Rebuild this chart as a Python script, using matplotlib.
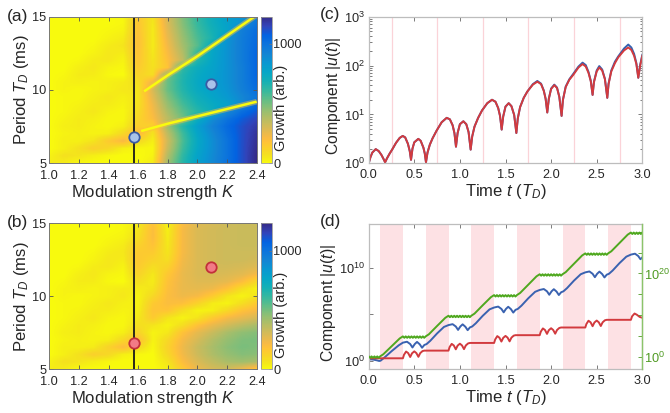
import numpy as np
import matplotlib
matplotlib.use('Agg')
import matplotlib.pyplot as plt
from matplotlib.colors import LinearSegmentedColormap
from matplotlib.ticker import FixedLocator, NullFormatter, LogFormatterSciNotation

plt.rcParams['font.family'] = ['Liberation Sans', 'DejaVu Sans']
plt.rcParams['mathtext.fontset'] = 'custom'
plt.rcParams['mathtext.rm'] = 'Liberation Sans'
plt.rcParams['mathtext.it'] = 'Liberation Sans:italic'
plt.rcParams['mathtext.bf'] = 'Liberation Sans:bold'

# ---------------- data ----------------
K_grid = [1.0, 1.1, 1.2, 1.3, 1.4, 1.5, 1.6, 1.7, 1.8, 1.9, 2.0, 2.1, 2.2, 2.3, 2.4]
T_grid = [15.0, 14.5, 14.0, 13.5, 13.0, 12.5, 12.0, 11.5, 11.0, 10.5, 10.0,
          9.5, 9.0, 8.5, 8.0, 7.5, 7.0, 6.5, 6.0, 5.5, 5.0]

growth_a = [
    [0, 0, 0, 0, 0, 10, 150, 60, 300, 480, 620, 720, 800, 860, 950],
    [0, 0, 0, 0, 0, 10, 170, 50, 290, 470, 610, 710, 790, 860, 1000],
    [0, 0, 0, 0, 10, 20, 180, 40, 270, 450, 590, 690, 780, 950, 1030],
    [0, 0, 0, 0, 20, 40, 190, 40, 250, 430, 570, 670, 850, 960, 1040],
    [0, 0, 0, 10, 40, 60, 190, 40, 230, 410, 550, 750, 860, 960, 1050],
    [0, 0, 0, 20, 50, 40, 180, 50, 210, 380, 620, 760, 860, 960, 1060],
    [0, 0, 10, 40, 50, 20, 170, 60, 190, 350, 650, 770, 860, 960, 1060],
    [0, 0, 30, 50, 20, 10, 150, 70, 170, 620, 720, 780, 860, 950, 1060],
    [0, 10, 40, 40, 10, 0, 120, 80, 500, 650, 740, 790, 860, 950, 1060],
    [0, 20, 30, 20, 30, 40, 80, 250, 520, 660, 750, 800, 860, 950, 1050],
    [0, 20, 10, 20, 30, 50, 60, 300, 520, 650, 740, 790, 850, 940, 1030],
    [0, 10, 10, 30, 50, 30, 60, 270, 480, 620, 710, 770, 830, 910, 990],
    [0, 10, 20, 40, 40, 20, 70, 240, 440, 580, 680, 740, 790, 900, 1050],
    [0, 10, 30, 50, 20, 10, 90, 220, 400, 540, 640, 720, 900, 1020, 1100],
    [0, 20, 40, 30, 10, 10, 110, 200, 360, 500, 720, 880, 1000, 1090, 1150],
    [0, 30, 40, 20, 10, 30, 140, 120, 420, 640, 800, 930, 1040, 1120, 1180],
    [0, 20, 30, 20, 30, 100, 220, 60, 360, 590, 770, 900, 1020, 1120, 1200],
    [0, 30, 30, 60, 150, 220, 100, 30, 320, 570, 750, 880, 1000, 1120, 1210],
    [0, 30, 70, 130, 100, 30, 10, 10, 340, 590, 760, 880, 1000, 1120, 1220],
    [20, 70, 60, 30, 10, 0, 0, 20, 380, 620, 780, 890, 1000, 1120, 1230],
    [40, 40, 10, 0, 0, 0, 0, 40, 420, 640, 790, 900, 1010, 1120, 1230],
]
# narrow stable (zero-growth) lines in panel (a)
stable_up_K = [1.64, 1.80, 2.00, 2.20, 2.40]
stable_up_T = [9.9, 11.0, 12.3, 13.7, 15.1]
stable_lo_K = [1.62, 1.80, 2.00, 2.20, 2.40]
stable_lo_T = [7.2, 7.7, 8.2, 8.7, 9.2]

growth_b = [
    [0, 0, 0, 0, 0, 10, 40, 180, 20, 200, 280, 300, 320, 330, 330],
    [0, 0, 0, 0, 0, 10, 60, 200, 30, 220, 290, 310, 320, 330, 330],
    [0, 0, 0, 0, 10, 20, 80, 200, 40, 220, 290, 310, 320, 330, 330],
    [0, 0, 0, 0, 20, 40, 120, 180, 50, 220, 290, 310, 320, 330, 330],
    [0, 0, 0, 10, 40, 50, 150, 150, 60, 220, 290, 310, 320, 320, 320],
    [0, 0, 0, 20, 50, 40, 160, 120, 80, 230, 290, 310, 320, 320, 310],
    [0, 0, 10, 40, 50, 20, 150, 80, 120, 240, 290, 310, 310, 300, 280],
    [0, 0, 30, 50, 20, 10, 120, 50, 160, 250, 290, 300, 290, 270, 220],
    [0, 10, 40, 40, 10, 0, 80, 40, 180, 250, 280, 280, 260, 200, 100],
    [0, 20, 30, 20, 30, 40, 40, 60, 190, 250, 260, 240, 180, 80, 20],
    [0, 20, 10, 20, 30, 50, 20, 100, 200, 240, 220, 150, 60, 20, 60],
    [0, 10, 10, 30, 50, 30, 20, 150, 200, 190, 120, 40, 20, 80, 150],
    [0, 10, 20, 40, 40, 20, 30, 170, 170, 80, 20, 30, 100, 180, 220],
    [0, 10, 30, 50, 20, 10, 50, 150, 60, 20, 60, 150, 220, 260, 300],
    [0, 20, 40, 30, 10, 10, 80, 60, 20, 80, 180, 250, 310, 360, 400],
    [0, 30, 40, 20, 10, 30, 120, 20, 50, 180, 260, 330, 400, 450, 470],
    [0, 20, 30, 20, 30, 100, 200, 20, 100, 220, 300, 380, 440, 480, 490],
    [0, 30, 30, 40, 120, 200, 100, 10, 120, 240, 330, 400, 460, 490, 480],
    [0, 30, 70, 130, 100, 30, 10, 0, 100, 230, 320, 390, 440, 470, 460],
    [20, 70, 60, 30, 10, 0, 0, 0, 60, 200, 290, 350, 400, 420, 400],
    [40, 40, 10, 0, 0, 0, 0, 0, 30, 150, 250, 300, 320, 250, 150],
]

K_cut = 1.57
pts_a_K = [1.57, 2.09]
pts_a_T = [6.8, 10.4]
pts_b_K = [1.57, 2.09]
pts_b_T = [6.8, 12.0]

# panel (c): time and log10 |u|
c_t = [0.0, 0.02, 0.04, 0.077, 0.11, 0.14, 0.165, 0.18, 0.20, 0.23, 0.26, 0.30, 0.34, 0.373,
       0.40, 0.43, 0.45, 0.464, 0.48, 0.50, 0.544, 0.57, 0.60, 0.615, 0.628, 0.645, 0.67, 0.70,
       0.745, 0.80, 0.855, 0.89, 0.92, 0.94, 0.957, 0.975, 1.00, 1.038, 1.07, 1.095, 1.118,
       1.135, 1.16, 1.20, 1.242, 1.30, 1.352, 1.39, 1.42, 1.44, 1.458, 1.475, 1.50, 1.535,
       1.565, 1.595, 1.619, 1.635, 1.66, 1.70, 1.74, 1.80, 1.849, 1.89, 1.92, 1.94, 1.958,
       1.975, 2.00, 2.035, 2.065, 2.09, 2.115, 2.13, 2.16, 2.20, 2.243, 2.30, 2.345, 2.38,
       2.41, 2.435, 2.455, 2.47, 2.50, 2.528, 2.56, 2.59, 2.616, 2.63, 2.66, 2.70, 2.737,
       2.80, 2.846, 2.88, 2.91, 2.935, 2.956, 2.975, 3.0]
c_red_log = [0.0, 0.13, 0.22, 0.29, 0.25, 0.17, 0.08, 0.02, 0.10, 0.20, 0.29, 0.42, 0.52, 0.56,
             0.53, 0.40, 0.25, 0.07, 0.30, 0.43, 0.50, 0.46, 0.32, 0.20, 0.02, 0.22, 0.38, 0.51,
             0.67, 0.84, 0.93, 0.90, 0.78, 0.62, 0.34, 0.62, 0.80, 0.86, 0.80, 0.64, 0.28,
             0.55, 0.75, 0.93, 1.08, 1.23, 1.30, 1.26, 1.13, 0.97, 0.69, 0.96, 1.16, 1.23,
             1.17, 0.99, 0.62, 0.92, 1.15, 1.34, 1.47, 1.61, 1.67, 1.62, 1.48, 1.32, 1.04,
             1.32, 1.52, 1.60, 1.54, 1.36, 0.97, 1.30, 1.56, 1.71, 1.81, 1.96, 2.03, 1.98,
             1.85, 1.68, 1.40, 1.66, 1.88, 1.96, 1.90, 1.72, 1.34, 1.62, 1.88, 2.05, 2.17,
             2.31, 2.37, 2.32, 2.20, 2.03, 1.75, 1.98, 2.20]
c_blue_log = [0.0, 0.13, 0.22, 0.29, 0.25, 0.17, 0.08, 0.02, 0.10, 0.20, 0.29, 0.42, 0.52, 0.56,
              0.53, 0.40, 0.25, 0.07, 0.30, 0.43, 0.50, 0.46, 0.32, 0.20, 0.02, 0.22, 0.38, 0.51,
              0.67, 0.84, 0.93, 0.90, 0.78, 0.62, 0.34, 0.62, 0.80, 0.86, 0.80, 0.64, 0.28,
              0.55, 0.75, 0.93, 1.08, 1.23, 1.30, 1.26, 1.13, 0.97, 0.69, 0.96, 1.16, 1.23,
              1.17, 0.99, 0.62, 0.92, 1.15, 1.34, 1.47, 1.62, 1.685, 1.63, 1.49, 1.32, 1.04,
              1.32, 1.53, 1.61, 1.55, 1.36, 0.97, 1.30, 1.57, 1.72, 1.83, 1.98, 2.06, 2.01,
              1.87, 1.69, 1.40, 1.67, 1.90, 1.99, 1.92, 1.73, 1.34, 1.63, 1.90, 2.08, 2.19,
              2.35, 2.43, 2.37, 2.24, 2.05, 1.75, 2.00, 2.22]
c_marks = [0.25, 0.75, 1.25, 1.75, 2.25, 2.75]

# panel (d): time and log10 values
d_red_t = [0.0, 0.375, 0.387, 0.41, 0.433, 0.455, 0.475, 0.50, 0.523, 0.545, 0.565, 0.59, 0.61,
           0.875, 0.887, 0.91, 0.933, 0.955, 0.975, 1.00, 1.023, 1.045, 1.065, 1.09, 1.11,
           1.375, 1.387, 1.41, 1.433, 1.455, 1.475, 1.50, 1.523, 1.545, 1.565, 1.59, 1.61,
           1.875, 1.887, 1.91, 1.933, 1.955, 1.975, 2.00, 2.023, 2.045, 2.065, 2.09, 2.11,
           2.375, 2.387, 2.41, 2.433, 2.455, 2.475, 2.50, 2.523, 2.545, 2.565, 2.59, 2.61,
           2.875, 2.888, 2.915, 2.94, 2.97, 3.0]
d_red_log = [0.24, 0.24, 0.62, 0.97, 0.80, 0.38, 0.78, 0.99, 0.80, 0.40, 0.80, 1.02, 1.07,
             1.07, 1.45, 1.80, 1.63, 1.21, 1.61, 1.82, 1.63, 1.23, 1.63, 1.85, 1.90,
             1.90, 2.28, 2.64, 2.47, 2.05, 2.45, 2.66, 2.47, 2.07, 2.47, 2.69, 2.74,
             2.74, 3.12, 3.47, 3.30, 2.88, 3.28, 3.49, 3.30, 2.90, 3.30, 3.52, 3.57,
             3.57, 3.95, 4.30, 4.13, 3.71, 4.11, 4.32, 4.13, 3.73, 4.13, 4.35, 4.40,
             4.40, 4.78, 5.08, 4.95, 4.72, 4.62]

d_blue_t = [0.0, 0.03, 0.06, 0.09, 0.115, 0.13, 0.17, 0.25, 0.33,
            0.375, 0.42, 0.455, 0.48, 0.505, 0.53, 0.56, 0.585, 0.61, 0.635, 0.675, 0.75, 0.825,
            0.875, 0.92, 0.955, 0.98, 1.005, 1.03, 1.06, 1.085, 1.11, 1.135, 1.175, 1.25, 1.325,
            1.375, 1.42, 1.455, 1.48, 1.505, 1.53, 1.56, 1.585, 1.61, 1.635, 1.675, 1.75, 1.825,
            1.875, 1.92, 1.955, 1.98, 2.005, 2.03, 2.06, 2.085, 2.11, 2.135, 2.175, 2.25, 2.325,
            2.375, 2.42, 2.455, 2.48, 2.505, 2.53, 2.56, 2.585, 2.61, 2.635, 2.675, 2.75, 2.825,
            2.875, 2.92, 2.955, 2.98, 3.0]
d_blue_log = [0.10, 0.12, 0.08, 0.02, -0.05, -0.02, 0.30, 1.00, 1.65,
              1.93, 2.03, 1.78, 1.41, 1.78, 2.01, 1.75, 1.38, 1.68, 1.78, 2.13, 2.93, 3.63,
              3.83, 3.93, 3.68, 3.31, 3.68, 3.91, 3.65, 3.28, 3.58, 3.68, 4.03, 4.83, 5.53,
              5.73, 5.83, 5.58, 5.21, 5.58, 5.81, 5.55, 5.18, 5.48, 5.58, 5.93, 6.73, 7.43,
              7.63, 7.73, 7.48, 7.11, 7.48, 7.71, 7.45, 7.08, 7.38, 7.48, 7.83, 8.63, 9.33,
              9.53, 9.63, 9.38, 9.01, 9.38, 9.61, 9.35, 8.98, 9.28, 9.38, 9.73, 10.53, 11.23,
              11.45, 11.55, 11.30, 10.95, 11.15]

d_green_t = [0.0, 0.016, 0.031, 0.047, 0.063, 0.078, 0.094, 0.109, 0.125, 0.16, 0.25, 0.34,
             0.375, 0.391, 0.406, 0.422, 0.438, 0.453, 0.469, 0.484, 0.500, 0.516, 0.531, 0.547,
             0.562, 0.578, 0.594, 0.609, 0.625, 0.66, 0.75, 0.84,
             0.875, 0.891, 0.906, 0.922, 0.938, 0.953, 0.969, 0.984, 1.000, 1.016, 1.031, 1.047,
             1.062, 1.078, 1.094, 1.109, 1.125, 1.16, 1.25, 1.34,
             1.375, 1.391, 1.406, 1.422, 1.438, 1.453, 1.469, 1.484, 1.500, 1.516, 1.531, 1.547,
             1.562, 1.578, 1.594, 1.609, 1.625, 1.66, 1.75, 1.84,
             1.875, 1.891, 1.906, 1.922, 1.938, 1.953, 1.969, 1.984, 2.000, 2.016, 2.031, 2.047,
             2.062, 2.078, 2.094, 2.109, 2.125, 2.16, 2.25, 2.34,
             2.375, 2.391, 2.406, 2.422, 2.438, 2.453, 2.469, 2.484, 2.500, 2.516, 2.531, 2.547,
             2.562, 2.578, 2.594, 2.609, 2.625, 2.66, 2.75, 2.84,
             2.875, 2.891, 2.906, 2.922, 2.938, 2.953, 2.969, 2.984, 3.0]
d_green_log = [0.10, -0.25, 0.10, -0.25, 0.10, -0.25, 0.10, -0.25, 0.10, 0.60, 2.50, 4.40,
               4.90, 4.55, 4.90, 4.55, 4.90, 4.55, 4.90, 4.55, 4.90, 4.55, 4.90, 4.55,
               4.90, 4.55, 4.90, 4.55, 4.90, 5.40, 7.40, 9.35,
               9.85, 9.50, 9.85, 9.50, 9.85, 9.50, 9.85, 9.50, 9.85, 9.50, 9.85, 9.50,
               9.85, 9.50, 9.85, 9.50, 9.85, 10.35, 12.35, 14.30,
               14.80, 14.45, 14.80, 14.45, 14.80, 14.45, 14.80, 14.45, 14.80, 14.45, 14.80, 14.45,
               14.80, 14.45, 14.80, 14.45, 14.80, 15.30, 17.30, 19.30,
               19.80, 19.45, 19.80, 19.45, 19.80, 19.45, 19.80, 19.45, 19.80, 19.45, 19.80, 19.45,
               19.80, 19.45, 19.80, 19.45, 19.80, 20.30, 22.30, 24.30,
               24.80, 24.45, 24.80, 24.45, 24.80, 24.45, 24.80, 24.45, 24.80, 24.45, 24.80, 24.45,
               24.80, 24.45, 24.80, 24.45, 24.80, 25.30, 27.30, 29.30,
               29.80, 29.45, 29.80, 29.45, 29.80, 29.45, 29.80, 29.45, 29.80]
d_band_start = [0.125, 0.625, 1.125, 1.625, 2.125, 2.625]
d_band_end = [0.375, 0.875, 1.375, 1.875, 2.375, 2.875]

# ---------------- style ----------------
W, H = 670, 413
TXT = '#262626'
parula = [(0.2081, 0.1663, 0.5292), (0.1959, 0.2645, 0.7279), (0.0117, 0.3875, 0.8820),
          (0.0498, 0.4586, 0.8641), (0.0793, 0.5200, 0.8312), (0.0343, 0.5966, 0.8199),
          (0.0228, 0.6535, 0.7768), (0.0843, 0.6928, 0.7062), (0.2178, 0.7250, 0.6193),
          (0.3953, 0.7459, 0.5244), (0.5709, 0.7485, 0.4494), (0.7184, 0.7411, 0.3905),
          (0.8507, 0.7299, 0.3360), (0.9739, 0.7314, 0.2666), (0.9990, 0.7653, 0.2164),
          (0.9880, 0.8066, 0.1794), (0.9697, 0.8481, 0.1475), (0.9589, 0.8949, 0.1132),
          (0.9661, 0.9514, 0.0755), (0.9763, 0.9831, 0.0538)]
pos = [0, 4, 8, 12, 16, 20, 24, 28, 32, 36, 40, 44, 48, 52, 54, 56, 58, 60, 62, 63]
cmap = LinearSegmentedColormap.from_list(
    'parula_r', [(1 - p / 63, c) for p, c in zip(pos, parula)][::-1])
VMAX = 1230

def rect(x0, y0, x1, y1):
    return [x0 / W, 1 - y1 / H, (x1 - x0) / W, (y1 - y0) / H]

fig = plt.figure(figsize=(6.7, 4.13), dpi=100)

def heat_panel(axr, caxr, data, pk, pt, face, edge, lines=()):
    ax = fig.add_axes(axr)
    dK = (K_grid[1] - K_grid[0]) / 2
    dT = (T_grid[0] - T_grid[1]) / 2
    im = ax.imshow(np.array(data, float), cmap=cmap, vmin=0, vmax=VMAX, aspect='auto',
                   origin='upper', interpolation='bilinear', interpolation_stage='data',
                   extent=[K_grid[0] - dK, K_grid[-1] + dK, T_grid[-1] - dT, T_grid[0] + dT])
    for lk, lt in lines:
        ax.plot(lk, lt, color=cmap(0.15), lw=4.0, alpha=0.45, solid_capstyle='butt')
        ax.plot(lk, lt, color=cmap(0.0), lw=1.8, solid_capstyle='butt')
    ax.set_xlim(K_grid[0], K_grid[-1])
    ax.set_ylim(T_grid[-1], T_grid[0])
    ax.axvline(K_cut, color='#1a1a1a', lw=1.3)
    ax.plot(pk, pt, 'o', ms=7.5, mfc=face, mec=edge, mew=1.3, zorder=5)
    ax.set_xticks([1.0, 1.2, 1.4, 1.6, 1.8, 2.0, 2.2, 2.4])
    ax.set_xticklabels(['1.0', '1.2', '1.4', '1.6', '1.8', '2.0', '2.2', '2.4'])
    ax.set_yticks([5, 10, 15])
    ax.tick_params(which='both', direction='in', top=True, right=True, length=3, width=0.6,
                   labelsize=9.2, colors='#555555', labelcolor=TXT, pad=3)
    ax.tick_params(axis='x', pad=4.5)
    ax.tick_params(axis='y', pad=2)
    for s in ax.spines.values():
        s.set_color('#777777'); s.set_linewidth(0.7)
    ax.set_xlabel('Modulation strength $K$', fontsize=12, color=TXT, labelpad=1)
    ax.set_ylabel('Period $T_D$ (ms)', fontsize=12, color=TXT, labelpad=1)
    cax = fig.add_axes(caxr)
    cb = fig.colorbar(im, cax=cax, ticks=[0, 1000])
    cb.outline.set_edgecolor('#999999'); cb.outline.set_linewidth(0.6)
    cax.tick_params(direction='in', length=2, width=0.5, labelsize=9.2, labelcolor=TXT, pad=1,
                    colors='#777777')
    cax.set_yticklabels(['0', '1000'], color=TXT)
    return ax

ax_a = heat_panel(rect(49.3, 16.5, 256.7, 163.3), rect(261, 16.5, 272, 163.3), growth_a,
                  pts_a_K, pts_a_T, '#a9c3ea', '#3b5ba5',
                  lines=[(stable_up_K, stable_up_T), (stable_lo_K, stable_lo_T)])
ax_b = heat_panel(rect(49.3, 223.3, 256.7, 369.3), rect(261, 223.3, 272, 369.3), growth_b,
                  pts_b_K, pts_b_T, '#f27a86', '#c2303a')
fig.text(281 / W, 1 - 108 / H, 'Growth (arb.)', rotation=90, ha='center', va='center',
         fontsize=10.5, color=TXT)
fig.text(281 / W, 1 - 315 / H, 'Growth (arb.)', rotation=90, ha='center', va='center',
         fontsize=10.5, color=TXT)

# panel letters
fig.text(7 / W, 1 - 16 / H, '(a)', fontsize=12.5, color=TXT, va='center')
fig.text(7 / W, 1 - 223 / H, '(b)', fontsize=12.5, color=TXT, va='center')
fig.text(320 / W, 1 - 15 / H, '(c)', fontsize=12.5, color=TXT, va='center')
fig.text(320 / W, 1 - 222 / H, '(d)', fontsize=12.5, color=TXT, va='center')

def line_axes_style(ax):
    ax.tick_params(which='both', direction='in', top=True, length=3, width=0.6,
                   labelsize=9.2, colors='#666666', labelcolor=TXT, pad=2.5)
    ax.tick_params(axis='x', pad=4)
    ax.tick_params(which='minor', length=1.8)
    for s in ax.spines.values():
        s.set_color('#bdbdbd'); s.set_linewidth(0.9)
    ax.set_xlim(0, 3)
    ax.set_xticks([0, 0.5, 1.0, 1.5, 2.0, 2.5, 3.0])
    ax.set_xticklabels(['0.0', '0.5', '1.0', '1.5', '2.0', '2.5', '3.0'])
    ax.set_xlabel('Time $t$ ($T_D$)', fontsize=12, color=TXT, labelpad=1)
    ax.set_ylabel('Component $|u(t)|$', fontsize=11.3, color=TXT, labelpad=1)

# ---------------- panel (c) ----------------
ax_c = fig.add_axes(rect(368.7, 16.7, 642.3, 163.3))
for tm in c_marks:
    ax_c.axvline(tm, color='#fbd3d8', lw=0.9, zorder=0)
ax_c.plot(c_t, 10 ** np.array(c_blue_log), color='#3461b0', lw=1.4)
ax_c.plot(c_t, 10 ** np.array(c_red_log), color='#d23a3e', lw=1.4)
ax_c.set_yscale('log')
ax_c.set_ylim(1, 1000)
ax_c.yaxis.set_major_locator(FixedLocator([1, 10, 100, 1000]))
ax_c.yaxis.set_major_formatter(LogFormatterSciNotation())
ax_c.yaxis.set_minor_locator(FixedLocator([m * 10 ** e for e in range(3) for m in range(2, 10)]))
ax_c.yaxis.set_minor_formatter(NullFormatter())
line_axes_style(ax_c)
ax_c.tick_params(which='both', right=True)
ax_c.yaxis.label.set_y(0.46)

# ---------------- panel (d) ----------------
ax_d = fig.add_axes(rect(368.7, 224, 642.3, 369.3))
for a0, a1 in zip(d_band_start, d_band_end):
    ax_d.axvspan(a0, a1, color='#fde1e4', lw=0, zorder=0)
ax_d.plot(d_blue_t, 10 ** np.array(d_blue_log), color='#3a62b0', lw=1.4)
ax_d.plot(d_red_t, 10 ** np.array(d_red_log), color='#d23a3e', lw=1.4)
ax_d.set_yscale('log')
ax_d.set_ylim(10 ** -0.95, 10 ** 14.76)
ax_d.yaxis.set_major_locator(FixedLocator([1, 1e10]))
ax_d.yaxis.set_major_formatter(LogFormatterSciNotation())
ax_d.yaxis.set_minor_locator(FixedLocator([1e5]))
ax_d.yaxis.set_minor_formatter(NullFormatter())
line_axes_style(ax_d)
ax_d.tick_params(which='both', right=False)
ax_d.tick_params(which='minor', length=3)
ax_d.yaxis.label.set_y(0.46)

ax_g = ax_d.twinx()
ax_g.set_position(rect(368.7, 224, 642.3, 369.3))
ax_g.plot(d_green_t, 10 ** np.array(d_green_log), color='#4fa81e', lw=1.4)
ax_g.set_yscale('log')
ax_g.set_ylim(10 ** -3.0, 10 ** 31.85)
ax_g.yaxis.set_major_locator(FixedLocator([1, 1e20]))
ax_g.yaxis.set_major_formatter(LogFormatterSciNotation())
ax_g.yaxis.set_minor_locator(FixedLocator([1e5, 1e10, 1e15, 1e25, 1e30]))
ax_g.yaxis.set_minor_formatter(NullFormatter())
ax_g.tick_params(which='both', direction='in', length=3, width=0.6, colors='#4f9a22',
                 labelsize=9.2, pad=1.5)
for nm, s in ax_g.spines.items():
    s.set_visible(nm == 'right')
ax_g.spines['right'].set_color('#8cc46a')
ax_g.spines['right'].set_linewidth(1.0)
ax_g.set_xlim(0, 3)

fig.savefig('out.png', dpi=100)
